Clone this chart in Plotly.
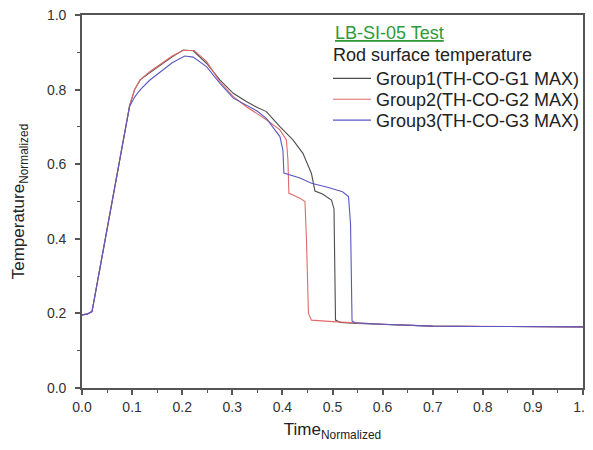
import plotly.graph_objects as go

# ---- data ----
g1_t = [0, 0.01, 0.02, 0.095, 0.105, 0.116, 0.135, 0.156, 0.18, 0.202, 0.222, 0.249, 0.275, 0.302,
        0.328, 0.35, 0.368, 0.395, 0.421, 0.441, 0.458, 0.465, 0.48, 0.498, 0.503, 0.506, 0.515,
        0.55, 0.6, 0.7, 0.8, 0.9, 1.0]
g1_y = [0.196, 0.198, 0.205, 0.757, 0.800, 0.826, 0.845, 0.866, 0.888, 0.906, 0.904, 0.870, 0.826, 0.790,
        0.768, 0.752, 0.741, 0.701, 0.665, 0.629, 0.575, 0.528, 0.520, 0.504, 0.48, 0.182, 0.176,
        0.173, 0.170, 0.166, 0.165, 0.164, 0.164]

g2_t = [0, 0.01, 0.02, 0.095, 0.105, 0.116, 0.135, 0.156, 0.18, 0.202, 0.224, 0.249, 0.275, 0.302,
        0.328, 0.35, 0.368, 0.395, 0.408, 0.411, 0.413, 0.42, 0.435, 0.445, 0.448, 0.452, 0.458,
        0.5, 0.54, 0.6, 0.7, 0.8, 0.9, 1.0]
g2_y = [0.196, 0.198, 0.205, 0.757, 0.800, 0.826, 0.848, 0.868, 0.890, 0.905, 0.905, 0.875, 0.821, 0.781,
        0.754, 0.735, 0.719, 0.692, 0.665, 0.611, 0.522, 0.518, 0.509, 0.50, 0.40, 0.20, 0.182,
        0.178, 0.175, 0.171, 0.166, 0.165, 0.164, 0.164]

g3_t = [0, 0.01, 0.02, 0.095, 0.105, 0.116, 0.135, 0.156, 0.18, 0.205, 0.222, 0.249, 0.275, 0.302,
        0.328, 0.35, 0.368, 0.395, 0.401, 0.403, 0.435, 0.458, 0.49, 0.52, 0.532, 0.536, 0.539,
        0.545, 0.6, 0.7, 0.8, 0.9, 1.0]
g3_y = [0.196, 0.198, 0.205, 0.755, 0.780, 0.799, 0.825, 0.848, 0.872, 0.890, 0.887, 0.861, 0.817, 0.777,
        0.759, 0.742, 0.723, 0.674, 0.638, 0.576, 0.563, 0.549, 0.538, 0.526, 0.513, 0.44, 0.18,
        0.175, 0.171, 0.166, 0.165, 0.164, 0.164]

names = ["Group1(TH-CO-G1 MAX)", "Group2(TH-CO-G2 MAX)", "Group3(TH-CO-G3 MAX)"]
colors = ["#4d4d4d", "#e06a6a", "#5858c4"]

x_ticks = [0.0, 0.1, 0.2, 0.3, 0.4, 0.5, 0.6, 0.7, 0.8, 0.9, 1.0]
y_ticks = [0.0, 0.2, 0.4, 0.6, 0.8, 1.0]

FONT = "Liberation Sans, Arial"
legend_ids = ["legend", "legend2", "legend3"]
legend_y = [0.879, 0.823, 0.767]

fig = go.Figure()
for t, y, n, c, lg in zip([g1_t, g2_t, g3_t], [g1_y, g2_y, g3_y], names, colors, legend_ids):
    fig.add_trace(go.Scatter(x=t, y=y, mode="lines", name=n, legend=lg,
                             line=dict(color=c, width=1.1)))

axis_common = dict(
    showgrid=False, zeroline=False, showline=True, linecolor="#555555", linewidth=1.6,
    mirror=True, ticks="outside", ticklen=5, tickwidth=1.5, tickcolor="#555555",
    tickfont=dict(family=FONT, size=14, color="#333333"),
    tickformat=".1f", automargin=False, ticklabeloverflow="allow",
)

legend_common = dict(x=0.491, xanchor="left", yanchor="top",
                     bgcolor="rgba(0,0,0,0)", borderwidth=0,
                     font=dict(family=FONT, size=18, color="#222222"),
                     itemwidth=38)

fig.update_layout(
    width=585, height=434,
    margin=dict(l=74, r=10, t=7, b=54, autoexpand=False),
    paper_bgcolor="white", plot_bgcolor="white",
    font=dict(family=FONT, color="#222222"),
    xaxis=dict(range=[0, 1], tickvals=x_ticks,
               minor=dict(ticks="outside", ticklen=3, tickwidth=1.3, tickcolor="#555555", dtick=0.05),
               title=dict(text="Time<sub>Normalized</sub>", font=dict(size=17, color="#222222"), standoff=12),
               **axis_common),
    yaxis=dict(range=[0, 1], tickvals=y_ticks, ticklabelstandoff=6,
               minor=dict(ticks="outside", ticklen=3, tickwidth=1.3, tickcolor="#555555", dtick=0.1),
               title=dict(text="Temperature<sub>Normalized</sub>", font=dict(size=17, color="#222222"), standoff=18),
               **axis_common),
    legend=dict(y=legend_y[0], **legend_common),
    legend2=dict(y=legend_y[1], **legend_common),
    legend3=dict(y=legend_y[2], **legend_common),
    showlegend=True,
)

fig.add_annotation(xref="paper", yref="paper", x=0.501, y=0.952, xanchor="left", yanchor="middle",
                   text="<u>LB-SI-05 Test</u>", showarrow=False,
                   font=dict(family=FONT, size=18, color="#2e9a3a"))
fig.add_annotation(xref="paper", yref="paper", x=0.497, y=0.893, xanchor="left", yanchor="middle",
                   text="Rod surface temperature", showarrow=False,
                   font=dict(family=FONT, size=18, color="#222222"))

fig.write_html("out.html")
